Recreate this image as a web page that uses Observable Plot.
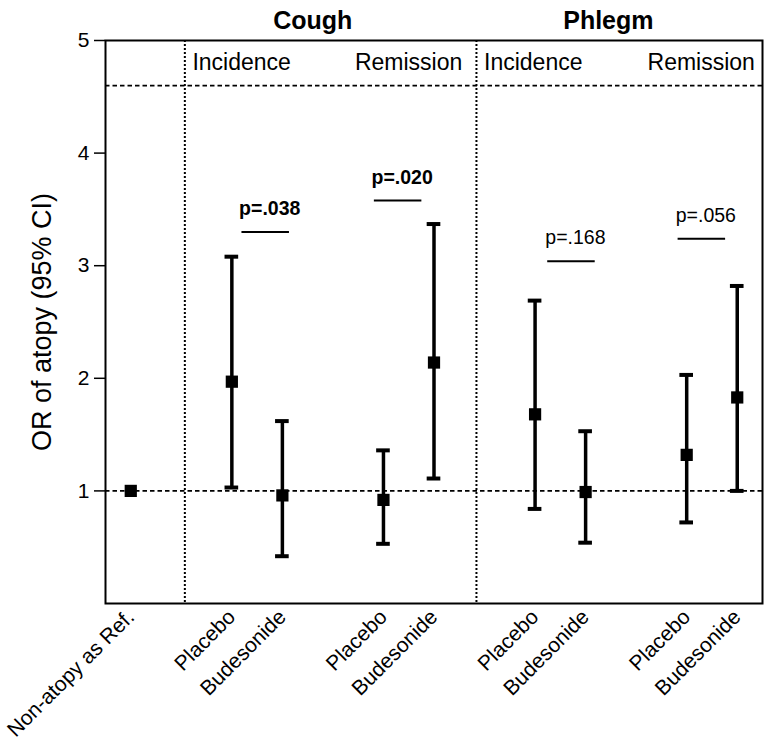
<!DOCTYPE html>
<html>
<head>
<meta charset="utf-8">
<script src="https://cdn.jsdelivr.net/npm/d3@7"></script>
<script src="https://cdn.jsdelivr.net/npm/@observablehq/plot@0.6"></script>
<style>
  html, body { margin: 0; padding: 0; background: #fff; }
</style>
</head>
<body>
<div id="chart"></div>
<script>
// Odds ratios of atopy (95% CI) for cough and phlegm, by treatment arm
const refLabel = "Non-atopy as Ref.";
const refOR = 1;
const outcomes = ["Cough", "Phlegm"];
const phases = ["Incidence", "Remission"];
const treatments = ["Placebo", "Budesonide"];

// order: Cough Incidence, Cough Remission, Phlegm Incidence, Phlegm Remission (Placebo, Budesonide each)
const orValue = [1.97, 0.96, 0.92, 2.14, 1.68, 0.99, 1.32, 1.83];
const ciLower = [1.03, 0.42, 0.53, 1.11, 0.84, 0.54, 0.72, 1.00];
const ciUpper = [3.08, 1.62, 1.36, 3.37, 2.69, 1.53, 2.03, 2.82];

// interaction p-values, one per outcome/phase
const pLabel = ["p=.038", "p=.020", "p=.168", "p=.056"];
const pBold = [true, true, false, false];
const pBarLevel = [3.30, 3.58, 3.04, 3.24];
const pBarShift = [0.17, -0.21, 0.22, -0.20];

const yLabel = "OR of atopy (95% CI)";
const yTicks = [1, 2, 3, 4, 5];

// slot layout: reference at 0, then pairs separated by an empty slot
const slotOf = (g, t) => 3 * g + 2 + t;
const rows = [];
let k = 0;
outcomes.forEach((o, oi) => phases.forEach((ph, pi) => treatments.forEach((t, ti) => {
  const g = oi * 2 + pi;
  rows.push({outcome: o, phase: ph, label: t, x: slotOf(g, ti), or: orValue[k], lo: ciLower[k], hi: ciUpper[k]});
  k++;
})));
const ref = {label: refLabel, x: 0, or: refOR};
const points = [ref, ...rows];

const comps = pLabel.map((p, g) => ({label: p, bold: pBold[g], x: 3 * g + 2.5 + pBarShift[g], y: pBarLevel[g]}));

const dividers = [1.07, 6.84];
const titles = outcomes.map((o, i) => ({text: o, x: [3.6, 9.45][i]}));
const phaseLabels = [
  {text: phases[0], x: dividers[0] + 0.15, anchor: "start"},
  {text: phases[1], x: dividers[1] - 0.28, anchor: "end"},
  {text: phases[0], x: dividers[1] + 0.15, anchor: "start"},
  {text: phases[1], x: 12.35, anchor: "end"}
];

const cap = 0.135;   // half-width of error-bar caps, in slot units
const bar = 0.47;    // half-width of p-value bars

const chart = Plot.plot({
  width: 764,
  height: 743,
  marginLeft: 105,
  marginRight: 2,
  marginTop: 40,
  marginBottom: 140,
  style: {fontFamily: "'Liberation Sans', Arial, sans-serif", color: "black", background: "white"},
  x: {type: "linear", domain: [-0.5, 12.5], axis: null},
  y: {domain: [0, 5], axis: null},
  marks: [
    Plot.ruleY([1, 4.6], {stroke: "black", strokeWidth: 1.8, strokeDasharray: "4.5,3"}),
    Plot.ruleX(dividers, {stroke: "black", strokeWidth: 2, strokeDasharray: "2,2"}),
    Plot.frame({stroke: "black", strokeWidth: 2}),
    Plot.axisY({ticks: yTicks, tickFormat: d3.format("d"), tickSize: 11, tickPadding: 5, fontSize: 21, label: null, strokeWidth: 1.5}),
    Plot.text([yLabel], {frameAnchor: "left", rotate: -90, dx: -63, fontSize: 27, textAnchor: "middle"}),
    // error bars
    Plot.ruleX(rows, {x: "x", y1: "lo", y2: "hi", stroke: "black", strokeWidth: 3.5}),
    Plot.ruleY(rows, {y: "lo", x1: d => d.x - cap, x2: d => d.x + cap, stroke: "black", strokeWidth: 4}),
    Plot.ruleY(rows, {y: "hi", x1: d => d.x - cap, x2: d => d.x + cap, stroke: "black", strokeWidth: 4}),
    Plot.dot(points, {x: "x", y: "or", symbol: "square", r: 6.9, fill: "black", stroke: null}),
    // p-value bars and labels
    Plot.ruleY(comps, {y: "y", x1: d => d.x - bar, x2: d => d.x + bar, stroke: "black", strokeWidth: 2}),
    Plot.text(comps.filter(d => d.bold), {x: "x", y: "y", text: "label", dy: -23, dx: 4, fontSize: 19.5, fontWeight: "bold"}),
    Plot.text(comps.filter(d => !d.bold), {x: "x", y: "y", text: "label", dy: -23, dx: 4, fontSize: 19.5}),
    // headers
    Plot.text(titles, {x: "x", y: 5, text: "text", dy: -20, fontSize: 25, fontWeight: "bold"}),
    Plot.text(phaseLabels.filter(d => d.anchor === "start"), {x: "x", y: 4.8, text: "text", fontSize: 23, textAnchor: "start"}),
    Plot.text(phaseLabels.filter(d => d.anchor === "end"), {x: "x", y: 4.8, text: "text", fontSize: 23, textAnchor: "end"}),
    // category labels
    Plot.text(points, {x: "x", y: 0, text: "label", rotate: -45, textAnchor: "end", dy: 10, fontSize: 21})
  ]
});
document.getElementById("chart").appendChild(chart);
</script>
</body>
</html>
